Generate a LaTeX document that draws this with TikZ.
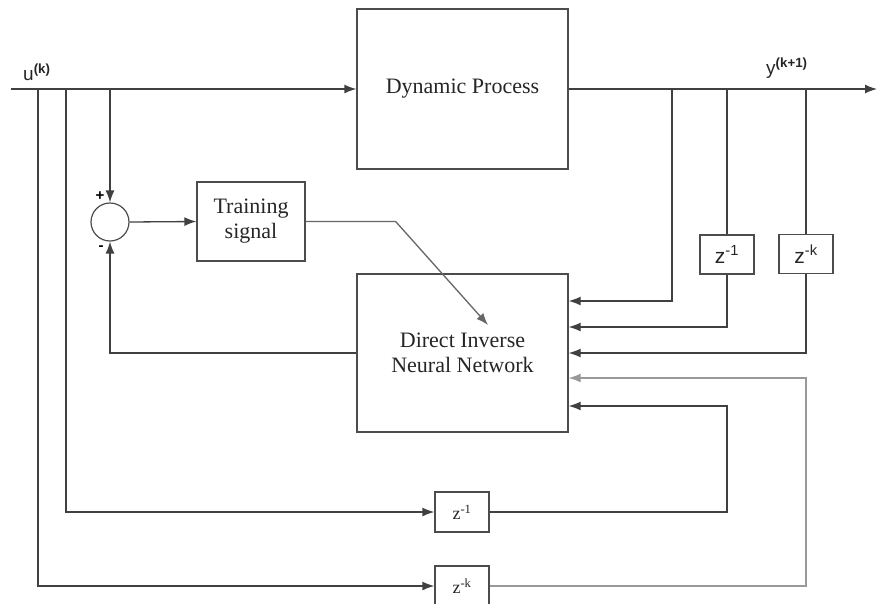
\documentclass[tikz,border=0pt]{standalone}
\usepackage{fontspec}
\setmainfont{Liberation Serif}
\setsansfont{Liberation Sans}
\usetikzlibrary{calc,positioning,arrows.meta}
\tikzset{>={Latex[length=12pt,width=9pt]}}

\begin{document}
\begin{tikzpicture}[x=1pt,y=-1pt]
    \tikzset{
      wire/.style={draw=black!75, line width=1.3pt},
      block/.style={draw=black!70, line width=1.3pt, fill=white, align=center, inner sep=0pt,
        font=\fontsize{22}{25}\selectfont, text=black!85},
      delay/.style={block, minimum width=54pt, minimum height=39pt, font=\sffamily\fontsize{21}{24}\selectfont},
      delayb/.style={block, minimum width=54pt, minimum height=40pt, font=\fontsize{18}{20}\selectfont},
      sig/.style={font=\sffamily\fontsize{19}{21}\selectfont, text=black!85, inner sep=0pt},
      sign/.style={font=\sffamily\bfseries\fontsize{15}{16}\selectfont, inner sep=0pt},
    }
    \useasboundingbox (0,0) rectangle (878,603);

    \coordinate (in)  at (11,89);  % input u(k)
    \coordinate (out) at (877,89); % output y(k+1)
    \coordinate (ua) at (38,89);
    \coordinate (ub) at (66,89);
    \coordinate (uc) at (110,89);
    \coordinate (ya) at (672,89);
    \coordinate (yb) at (727,89);
    \coordinate (yc) at (806,89);
    \coordinate (learn) at (488,325); % training signal enters the network

    % Blocks.
    \node [block, minimum width=211pt, minimum height=160pt] (proc) at (462.5,89)  {Dynamic Process};
    \node [block, minimum width=108pt, minimum height=79pt]  (train) at (251,221.5) {Training\\signal};
    \node [block, minimum width=211pt, minimum height=158pt] (dinn) at (462.5,353) {Direct Inverse\\Neural Network};
    \node [circle, draw=black!70, line width=1.2pt, minimum size=38pt, inner sep=0pt] (sum) at (110,222) {};

    \node [delay]  (zy1) at (727,254.5) {z\textsuperscript{-1}};
    \node [delay]  (zyk) at (806,254)   {z\textsuperscript{-k}};
    \node [delayb] (zu1) at (462,512)   {z\textsuperscript{-1}};
    \node [delayb] (zuk) at (462,586)   {z\textsuperscript{-k}};

    % Labels.
    \node [sig, anchor=base west] (ulab) at (23,80) {u\textsuperscript{\bfseries(k)}};
    \node [sig, anchor=base west] (ylab) at (766,74) {y\textsuperscript{\bfseries(k+1)}};
    \node [sign] (plus)  at (100,196) {+};
    \node [sign] (minus) at (101,248) {-};

    % Forward path.
    \draw [wire,->] (in) -- (proc.west);
    \draw [wire,->] (proc.east) -- (out);

    % Error and training.
    \draw [wire,->] (uc) -- (sum.north);
    \draw [wire,->] (sum.east) -- (train.west);
    \draw [wire,->] (dinn.west) -| (sum.south);
    \draw [wire,draw=black!60,->] (train.east) -- ++(90,0) -- (learn);

    % Output taps.
    \draw [wire,->] (ya) |- ([yshift=52pt]dinn.east);
    \draw [wire] (yb) -- (zy1.north);
    \draw [wire,->] (zy1.south) |- ([yshift=26pt]dinn.east);
    \draw [wire] (yc) -- (zyk.north);
    \draw [wire,->] (zyk.south) |- (dinn.east);

    % Input taps.
    \draw [wire,->] (ub) |- (zu1.west);
    \draw [wire,->] (ua) |- (zuk.west);
    \draw [wire,->] (zu1.east) -- (zu1.east -| zy1) |- ([yshift=-53pt]dinn.east);
    \draw [wire,draw=black!40,->] (zuk.east) -- (zuk.east -| zyk) |- ([yshift=-25pt]dinn.east);

\end{tikzpicture}
\end{document}
